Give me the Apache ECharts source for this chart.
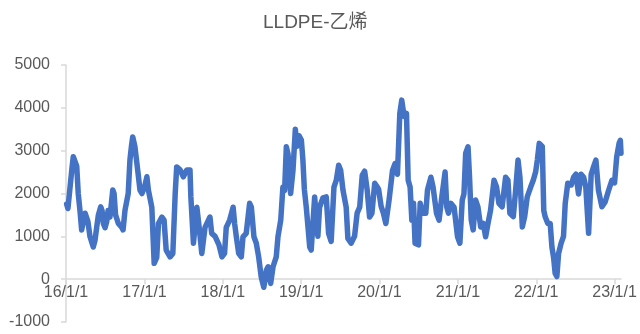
<!DOCTYPE html>
<html>
<head>
<meta charset="utf-8">
<style>
  html, body { margin: 0; padding: 0; background: #fff; }
  #chart { width: 640px; height: 334px; }
</style>
<script src="https://cdn.jsdelivr.net/npm/echarts@6/dist/echarts.min.js"></script>
</head>
<body>
<div id="chart"></div>
<script>
// LLDPE minus ethylene spread, 2016 to early 2023
const dates = [
  '2016-01-04','2016-01-10','2016-01-20','2016-01-29','2016-02-04','2016-02-12','2016-02-20','2016-02-27',
  '2016-03-06','2016-03-14','2016-03-20','2016-03-30','2016-04-08','2016-04-12','2016-04-22','2016-05-07',
  '2016-05-15','2016-05-23','2016-05-31','2016-06-11','2016-06-17','2016-06-23','2016-07-01','2016-07-09',
  '2016-07-15','2016-07-24','2016-08-06','2016-08-12','2016-08-19','2016-09-01','2016-09-17','2016-09-23',
  '2016-10-02','2016-10-17','2016-10-25','2016-11-01','2016-11-07','2016-11-10','2016-11-17','2016-11-28',
  '2016-12-11','2016-12-20',
  '2017-01-01','2017-01-12','2017-01-19','2017-02-04','2017-02-15','2017-02-27','2017-03-07','2017-03-23',
  '2017-04-02','2017-04-12','2017-04-30','2017-05-13','2017-05-24','2017-05-31','2017-06-16','2017-07-01',
  '2017-07-17','2017-08-01','2017-08-05','2017-08-17','2017-09-02','2017-09-14','2017-09-25','2017-10-10',
  '2017-11-02','2017-11-10','2017-11-26','2017-12-14','2017-12-28',
  '2018-01-09','2018-01-17','2018-02-02','2018-02-18','2018-02-25','2018-03-05','2018-03-16','2018-03-28',
  '2018-04-05','2018-04-20','2018-05-06','2018-05-14','2018-05-26','2018-06-06','2018-06-17','2018-06-29',
  '2018-07-11','2018-07-23','2018-07-31','2018-08-12','2018-08-23','2018-09-07','2018-09-15','2018-09-28',
  '2018-10-08','2018-10-16','2018-10-24','2018-11-01','2018-11-13','2018-11-24','2018-12-05','2018-12-12',
  '2018-12-22',
  '2019-01-02','2019-01-09','2019-01-16','2019-01-25','2019-02-10','2019-02-17','2019-03-05','2019-03-20',
  '2019-03-28','2019-04-13','2019-04-28','2019-05-09','2019-05-21','2019-06-03','2019-06-14','2019-06-25',
  '2019-07-04','2019-07-15','2019-07-30','2019-08-07','2019-08-22','2019-09-07','2019-09-19','2019-10-01',
  '2019-10-13','2019-10-24','2019-11-05','2019-11-16','2019-11-27','2019-12-10','2019-12-22','2019-12-28',
  '2020-01-09','2020-01-19','2020-01-31','2020-02-15','2020-03-02','2020-03-14','2020-03-25','2020-04-05',
  '2020-04-14','2020-04-25','2020-05-06','2020-05-14','2020-05-23','2020-05-31','2020-06-08','2020-06-15',
  '2020-07-01','2020-07-09','2020-07-20','2020-08-04','2020-08-12','2020-08-28','2020-09-07','2020-09-23',
  '2020-10-05','2020-10-18','2020-11-02','2020-11-10','2020-11-18','2020-11-29','2020-12-14','2020-12-30',
  '2021-01-10','2021-01-21','2021-01-29','2021-02-06','2021-02-17','2021-02-24','2021-03-04','2021-03-13',
  '2021-03-24','2021-04-04','2021-04-17','2021-04-29','2021-05-10','2021-05-21','2021-06-02','2021-06-18',
  '2021-06-30','2021-07-11','2021-07-26','2021-08-11','2021-08-22','2021-08-31','2021-09-16','2021-09-27',
  '2021-10-08','2021-10-17','2021-10-28','2021-11-08','2021-11-20','2021-12-06','2021-12-18','2021-12-29',
  '2022-01-06','2022-01-15','2022-01-20','2022-01-29','2022-02-05','2022-02-12','2022-02-24','2022-03-07',
  '2022-03-15','2022-03-23','2022-03-30','2022-04-07','2022-04-15','2022-04-27','2022-05-08','2022-05-16',
  '2022-05-28','2022-06-13','2022-06-24','2022-07-05','2022-07-17','2022-07-29','2022-08-10','2022-08-20',
  '2022-09-02','2022-09-14','2022-09-25','2022-10-06','2022-10-18','2022-11-03','2022-11-18','2022-12-04',
  '2022-12-20',
  '2023-01-01','2023-01-11','2023-01-22','2023-01-28','2023-01-31'
];

const spread = [
  1750,1650,2150,2600,2860,2880,2640,2000,
  1610,1150,1300,1540,1500,1350,990,750,
  900,1210,1500,1690,1600,1300,1200,1350,
  1600,1450,2080,2000,1500,1300,1210,1150,
  1610,2000,2780,3100,3320,3350,3100,2640,
  2080,2000,
  2150,2390,2080,1680,370,510,1300,1450,
  1380,680,520,600,2000,2620,2550,2390,
  2550,2550,1920,840,1680,1150,600,1210,
  1450,1070,1000,800,520,
  600,1210,1380,1680,1300,990,600,520,
  990,1070,1770,1680,990,840,520,50,
  -190,210,290,-100,290,520,990,1380,
  2150,2070,3090,2920,2000,2540,3500,3100,
  3350,
  3250,2800,2100,1680,750,680,1920,1000,
  1680,1900,1920,1070,880,2150,2310,2660,
  2550,2080,1680,950,840,1000,1540,1680,
  2430,2520,2080,1450,1540,2240,2150,2100,
  1700,1550,1300,1850,2540,2700,2450,3870,
  4180,3800,3870,2310,2150,1380,1770,840,
  800,1770,1540,1540,2080,2380,2150,1540,
  1380,1930,2500,1680,1540,1770,1680,990,
  840,1850,1990,2940,3090,2380,1380,1150,
  1850,1690,1220,1300,990,1300,1610,2310,
  2150,1770,1690,2380,2310,1540,1460,2080,
  2780,2380,1220,1460,1920,2150,2310,2500,
  2780,3170,3200,3100,1600,1450,1300,1300,
  750,500,140,60,600,840,1000,1770,
  2240,2200,2380,2450,1990,2450,2380,2150,
  1070,2450,2620,2780,2070,1690,1800,2070,
  2310,
  2250,2860,3170,3240,2940
];

// Year-start ticks along the date axis
const yearTicks = ['2016-01-01','2017-01-01','2018-01-01','2019-01-01',
                   '2020-01-01','2021-01-01','2022-01-01','2023-01-01'];

const Y_MIN = -1000, Y_MAX = 5000, Y_STEP = 1000;

function toTime(s) {
  const p = s.split('-').map(Number);
  return Date.UTC(p[0], p[1] - 1, p[2]);
}

const tickTimes = yearTicks.map(toTime);
const series = dates.map((d, i) => [toTime(d), spread[i]]);

const textColor = '#595959';
const axisGrey = '#D9D9D9';
const labelFont = "'Liberation Sans', Arial, 'Noto Sans CJK SC', sans-serif";

const GRID = { left: 66, right: 19, top: 65, bottom: 12 };
const plotHeight = 334 - GRID.top - GRID.bottom;
// the date axis sits on the zero line, so lift it from the grid bottom
const zeroLift = plotHeight * (0 - Y_MIN) / (Y_MAX - Y_MIN);

const chart = echarts.init(document.getElementById('chart'), null, { renderer: 'canvas' });
chart.setOption({
  animation: false,
  backgroundColor: '#ffffff',
  title: {
    text: 'LLDPE-乙烯',
    left: 258,
    top: 8,
    textStyle: {
      color: textColor,
      fontSize: 19,
      fontWeight: 'normal',
      fontFamily: labelFont
    }
  },
  grid: Object.assign({ containLabel: false, outerBoundsMode: 'none' }, GRID),
  xAxis: {
    type: 'value',
    position: 'bottom',
    offset: -zeroLift,
    min: toTime('2016-01-01'),
    max: toTime('2023-01-31'),
    axisLine: { onZero: false, lineStyle: { color: axisGrey, width: 1.5 } },
    axisTick: { show: true, customValues: tickTimes, length: 5, lineStyle: { color: axisGrey, width: 1.5 } },
    axisLabel: {
      customValues: tickTimes,
      margin: 5,
      color: textColor,
      fontSize: 16,
      fontFamily: labelFont,
      formatter: function (val) {
        const d = new Date(val);
        return String(d.getUTCFullYear() % 100) + '/' + (d.getUTCMonth() + 1) + '/' + d.getUTCDate();
      }
    },
    splitLine: { show: false }
  },
  yAxis: {
    type: 'value',
    min: Y_MIN,
    max: Y_MAX,
    interval: Y_STEP,
    axisLine: { show: true, lineStyle: { color: axisGrey, width: 1.5 } },
    axisTick: { show: true, length: 5, lineStyle: { color: axisGrey, width: 1.5 } },
    axisLabel: {
      margin: 16,
      color: textColor,
      fontSize: 16,
      fontFamily: labelFont,
      formatter: function (v) { return String(v); }
    },
    splitLine: { show: false }
  },
  series: [{
    type: 'line',
    data: series,
    showSymbol: false,
    symbol: 'none',
    lineStyle: { color: '#4472C4', width: 5.5, join: 'round', cap: 'round' },
    itemStyle: { color: '#4472C4' }
  }]
});
</script>
</body>
</html>
